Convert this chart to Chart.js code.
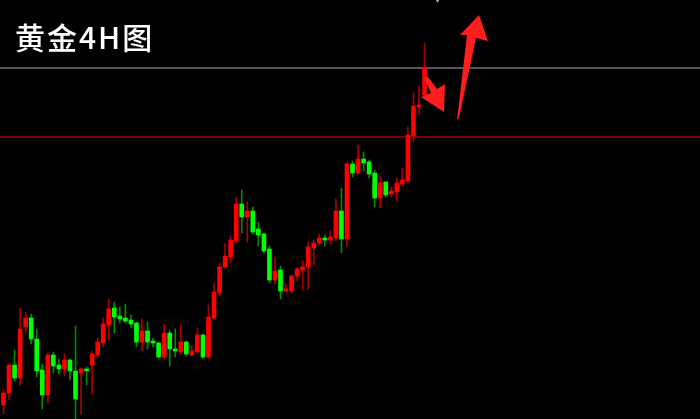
<!DOCTYPE html>
<html>
<head>
<meta charset="utf-8">
<script src="https://cdn.jsdelivr.net/npm/chart.js@4/dist/chart.umd.min.js"></script>
<style>
  body { margin: 0; background: #000; }
  #wrap { position: relative; width: 700px; height: 419px; background: #000; }
  #title {
    position: absolute; left: 15px; top: 21px;
    color: #fff; font-family: "Noto Sans CJK SC", sans-serif;
    font-size: 30px; line-height: 30px; letter-spacing: 2px; font-weight: 500;
  }
</style>
</head>
<body>
<div id="wrap">
  <canvas id="chart" width="700" height="419"></canvas>
  <div id="title">黄金4H图</div>
</div>
<script>
// 4H candles (arbitrary price units)
const opens  = [14,26,54,41,92,101,80,49,24,64,54,50,59,48,46,50,54,64,76,94,111,103,101,99,96,77,88,78,76,62,86,70,67,77,64,67,84,62,101,126,152,162,178,215,202,208,190,185,170,139,149,128,128,143,149,152,171,176,181,179,181,208,180,255,246,260,257,246,221,237,225,227,235,238,283,312,324];
const highs  = [29,55,69,111,107,105,90,55,66,67,60,65,60,93,51,52,68,81,101,120,117,112,115,104,97,100,97,81,77,95,89,90,95,78,74,91,85,114,136,156,176,183,222,229,217,212,197,186,173,162,153,135,144,152,158,177,179,185,184,188,220,231,257,258,274,267,259,249,242,237,232,241,251,292,326,333,376];
const lows   = [5,19,38,34,86,75,42,10,16,46,45,43,39,-2,5,34,25,62,72,79,86,96,96,91,72,68,70,72,61,60,53,62,65,63,63,66,60,60,100,123,151,156,176,186,177,185,173,166,136,135,120,127,126,138,129,130,154,173,173,175,178,166,172,242,245,248,241,212,211,222,222,218,234,237,277,304,320];
const closes = [26,54,41,90,101,80,48,24,64,53,50,59,48,20,50,48,65,77,95,110,102,100,98,95,77,88,77,76,62,86,70,68,77,65,68,84,62,102,127,152,163,179,215,202,208,187,184,168,139,148,128,130,143,150,152,172,176,181,179,182,208,180,255,246,260,256,245,221,236,224,228,236,239,284,313,314,351];

// horizontal levels
const upperLevel = 351;
const lowerLevel = 282;

// hand-drawn arrows, vertices in (candle index, price)
const arrowDownX = [75.9, 76.62, 78.25, 79.69, 79.51, 75.36, 77.17];
const arrowDownY = [342, 342, 330, 335, 307, 322, 326];
const arrowUpX = [81.86, 83.66, 82.4, 85.83, 87.45, 85.29, 82.22];
const arrowUpY = [299, 384, 384, 404, 378, 381, 301];

// small marker at the top edge
const markerX = [78.34];
const markerY = [421];

const xMin = -0.632, xMax = 125.72;

const bodyData = opens.map((o, i) => ({ x: i, y: [o, closes[i]] }));
const wickData = lows.map((l, i) => ({ x: i, y: [l, highs[i]] }));
const up = opens.map((o, i) => closes[i] >= o);

const arrowPlugin = {
  id: 'arrows',
  afterDatasetsDraw(chart) {
    const { ctx, scales: { x, y } } = chart;
    const shapes = [[arrowDownX, arrowDownY], [arrowUpX, arrowUpY]];
    ctx.save();
    ctx.fillStyle = '#ff1e1e';
    shapes.forEach(([xs, ys]) => {
      ctx.beginPath();
      xs.forEach((v, i) => {
        const px = x.getPixelForValue(v), py = y.getPixelForValue(ys[i]);
        if (i === 0) ctx.moveTo(px, py); else ctx.lineTo(px, py);
      });
      ctx.closePath();
      ctx.fill();
    });
    ctx.restore();
  }
};

new Chart(document.getElementById('chart'), {
  type: 'bar',
  data: {
    datasets: [
      {
        label: 'body',
        data: bodyData,
        backgroundColor: up.map(u => u ? '#ff0000' : '#00ff00'),
        barThickness: 4,
        minBarLength: 1,
        grouped: false,
        order: 1
      },
      {
        label: 'wick',
        data: wickData,
        backgroundColor: up.map(u => u ? '#aa0000' : '#008c00'),
        barThickness: 1,
        grouped: false,
        order: 2
      },
      {
        type: 'line',
        label: 'upper',
        data: [{ x: xMin, y: upperLevel }, { x: xMax, y: upperLevel }],
        borderColor: '#6a7282',
        borderWidth: 1.5,
        pointRadius: 0,
        order: 3
      },
      {
        type: 'line',
        label: 'lower',
        data: [{ x: xMin, y: lowerLevel }, { x: xMax, y: lowerLevel }],
        borderColor: '#a00000',
        borderWidth: 1.5,
        pointRadius: 0,
        order: 3
      },
      {
        type: 'scatter',
        label: 'marker',
        data: markerX.map((v, i) => ({ x: v, y: markerY[i] })),
        pointStyle: 'triangle',
        rotation: 180,
        radius: 5,
        backgroundColor: '#9aa3b3',
        borderWidth: 0,
        clip: false,
        order: 0
      }
    ]
  },
  options: {
    responsive: false,
    animation: false,
    devicePixelRatio: 1,
    layout: { padding: 0, autoPadding: false },
    plugins: { legend: { display: false }, tooltip: { enabled: false } },
    scales: {
      x: { type: 'linear', min: xMin, max: xMax, offset: false, display: false },
      y: { min: 0, max: 419, display: false }
    }
  },
  plugins: [arrowPlugin]
});
</script>
</body>
</html>
